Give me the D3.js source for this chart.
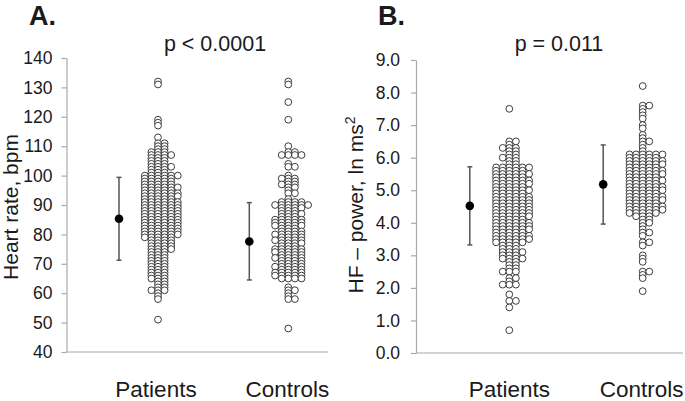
<!DOCTYPE html>
<html>
<head>
<meta charset="utf-8">
<script src="https://cdn.jsdelivr.net/npm/d3@7"></script>
<style>
  html, body { margin: 0; padding: 0; background: #fff; }
  svg { display: block; }
  text { font-family: "Liberation Sans", Arial, sans-serif; fill: #1a1a1a; }
</style>
</head>
<body>
<svg id="chart" width="685" height="401"></svg>
<script>
// ---------------- DATA ----------------
const groups = ["Patients", "Controls"];

// Panel A: heart rate, bpm
const hrPatients = [
  51,
  58, 59, 60,
  61, 61, 61, 62, 62, 63, 63, 64, 64,
  65, 65, 65, 66, 66, 66, 67, 67, 67, 68, 68, 68, 69, 69, 69,
  70, 70, 70, 71, 71, 71, 72, 72, 72, 73, 73, 73, 74, 74, 74,
  75, 75, 75, 75, 76, 76, 76, 76, 77, 77, 77, 77, 78, 78, 78, 78,
  79, 79, 79, 79, 79,
  80, 80, 80, 80, 80, 80, 81, 81, 81, 81, 81, 81, 82, 82, 82, 82, 82, 82,
  83, 83, 83, 83, 83, 83, 84, 84, 84, 84, 84, 84, 85, 85, 85, 85, 85, 85,
  86, 86, 86, 86, 86, 86, 87, 87, 87, 87, 87, 87, 88, 88, 88, 88, 88, 88,
  89, 89, 89, 89, 89, 89, 90, 90, 90, 90, 90, 90, 91, 91, 91, 91, 91, 91,
  92, 92, 92, 92, 92, 93, 93, 93, 93, 93, 93, 94, 94, 94, 94, 94, 94,
  95, 95, 95, 95, 95, 96, 96, 96, 96, 96, 96, 97, 97, 97, 97, 97,
  98, 98, 98, 98, 98, 99, 99, 99, 99, 99, 100, 100, 100, 100, 100, 100,
  101, 101, 101, 102, 102, 102, 103, 103, 103, 103, 104, 104, 104,
  105, 105, 105, 106, 106, 106, 107, 107, 107, 107, 108, 108, 108,
  109, 109, 110, 110, 111, 111, 113, 117, 118, 119, 131, 132
];
const hrControls = [
  48,
  58, 58, 59, 60, 61, 61, 62,
  65, 65, 65, 65, 66, 66, 66, 66, 66, 67, 67, 67, 67, 67, 68, 68, 68, 68,
  69, 69, 69, 69, 69, 70, 70, 70, 70, 71, 71, 71, 71, 72, 72, 72, 72, 72,
  73, 73, 73, 73, 74, 74, 74, 74, 74, 75, 75, 75, 75, 75, 76, 76, 76,
  77, 77, 77, 77, 78, 78, 78, 78, 78, 79, 79, 79, 79, 80, 80, 80, 80, 80,
  81, 81, 81, 81, 82, 82, 82, 83, 83, 83, 83, 83, 84, 84, 84, 84, 84,
  85, 85, 85, 85, 85, 86, 86, 86, 87, 87, 87, 87, 88, 88, 88, 89, 89, 89, 89,
  90, 90, 90, 90, 90, 90, 91, 91, 91, 91, 92,
  94, 94, 95, 96, 96, 97, 97, 97, 98, 98, 99, 99, 99, 100,
  103, 103, 104, 107, 107, 107, 107, 108, 108, 110, 119, 125, 131, 132
];
const hrMean = [85.3, 77.6];
const hrLow  = [71.2, 64.5];
const hrHigh = [99.4, 90.8];

// Panel B: HF power, ln ms^2
const hfPatients = [
  0.7, 1.4, 1.6, 1.6, 1.8, 2.1, 2.1, 2.1, 2.2, 2.3, 2.3,
  2.5, 2.5, 2.5, 2.6, 2.6, 2.7, 2.7, 2.8, 2.8, 2.9, 2.9, 2.9, 2.9,
  3.0, 3.0, 3.0, 3.1, 3.1, 3.1, 3.1, 3.2, 3.2, 3.2, 3.3, 3.3, 3.3,
  3.4, 3.4, 3.4, 3.4, 3.4, 3.5, 3.5, 3.5, 3.5, 3.5, 3.5,
  3.6, 3.6, 3.6, 3.6, 3.6, 3.6, 3.7, 3.7, 3.7, 3.7, 3.7,
  3.8, 3.8, 3.8, 3.8, 3.8, 3.8, 3.9, 3.9, 3.9, 3.9, 3.9, 3.9,
  4.0, 4.0, 4.0, 4.0, 4.0, 4.0, 4.1, 4.1, 4.1, 4.1, 4.1,
  4.2, 4.2, 4.2, 4.2, 4.2, 4.2, 4.3, 4.3, 4.3, 4.3, 4.3, 4.3,
  4.4, 4.4, 4.4, 4.4, 4.4, 4.4, 4.5, 4.5, 4.5, 4.5, 4.5, 4.5,
  4.6, 4.6, 4.6, 4.6, 4.6, 4.6, 4.7, 4.7, 4.7, 4.7, 4.7, 4.7,
  4.8, 4.8, 4.8, 4.8, 4.8, 4.8, 4.9, 4.9, 4.9, 4.9, 4.9,
  5.0, 5.0, 5.0, 5.0, 5.0, 5.0, 5.1, 5.1, 5.1, 5.1, 5.1,
  5.2, 5.2, 5.2, 5.2, 5.2, 5.2, 5.3, 5.3, 5.3, 5.3, 5.3, 5.3,
  5.4, 5.4, 5.4, 5.4, 5.4, 5.5, 5.5, 5.5, 5.5, 5.5, 5.5,
  5.6, 5.6, 5.6, 5.6, 5.6, 5.7, 5.7, 5.7, 5.7, 5.7, 5.7,
  5.8, 5.8, 5.9, 5.9, 6.0, 6.0, 6.0, 6.1, 6.1, 6.2, 6.2,
  6.3, 6.3, 6.3, 6.4, 6.5, 6.5, 7.5
];
const hfControls = [
  1.9, 2.3, 2.4, 2.5, 2.5, 2.8, 2.9, 3.0, 3.3, 3.4, 3.4, 3.6, 3.7, 3.7, 3.8, 3.9,
  4.0, 4.0, 4.1, 4.1, 4.2, 4.2, 4.2,
  4.3, 4.3, 4.3, 4.3, 4.3, 4.4, 4.4, 4.4, 4.4, 4.4, 4.4,
  4.5, 4.5, 4.5, 4.5, 4.5, 4.5, 4.6, 4.6, 4.6, 4.6, 4.6,
  4.7, 4.7, 4.7, 4.7, 4.7, 4.7, 4.8, 4.8, 4.8, 4.8, 4.8, 4.8,
  4.9, 4.9, 4.9, 4.9, 4.9, 5.0, 5.0, 5.0, 5.0, 5.0, 5.0,
  5.1, 5.1, 5.1, 5.1, 5.1, 5.1, 5.2, 5.2, 5.2, 5.2, 5.2,
  5.3, 5.3, 5.3, 5.3, 5.3, 5.3, 5.4, 5.4, 5.4, 5.4, 5.4,
  5.5, 5.5, 5.5, 5.5, 5.5, 5.5, 5.6, 5.6, 5.6, 5.6, 5.6, 5.6,
  5.7, 5.7, 5.7, 5.7, 5.7, 5.8, 5.8, 5.8, 5.8, 5.8, 5.8,
  5.9, 5.9, 5.9, 5.9, 5.9, 5.9, 6.0, 6.0, 6.0, 6.0, 6.0,
  6.1, 6.1, 6.1, 6.1, 6.1, 6.1,
  6.2, 6.3, 6.4, 6.5, 6.5, 6.6, 6.7, 6.9, 7.0, 7.2, 7.3, 7.4, 7.5, 7.6, 7.6, 8.2
];
const hfMean = [4.52, 5.18];
const hfLow  = [3.32, 3.96];
const hfHigh = [5.72, 6.39];

const hrTicks = [40, 50, 60, 70, 80, 90, 100, 110, 120, 130, 140];
const hfTicks = [0, 1, 2, 3, 4, 5, 6, 7, 8, 9];

// ---------------- DRAWING ----------------
const svg = d3.select("#chart");
const colOrder = [0, 1, -1, 2, -2, 3, -3, 4, -4];
const colStep = 6.6;

function layout(values, binSize) {
  const counts = new Map();
  return values.slice().sort((a, b) => b - a).map(v => {
    const key = Math.round(v / binSize);
    const n = counts.get(key) || 0;
    counts.set(key, n + 1);
    return { v, col: colOrder[n] };
  });
}

function panel(cfg) {
  const g = svg.append("g");
  const y = d3.scaleLinear().domain(cfg.domain).range(cfg.yRange);
  const x = d3.scalePoint().domain(groups).range(cfg.xRange);

  // y axis
  const ax = g.append("g")
    .attr("transform", `translate(${cfg.axisX},0)`)
    .call(d3.axisLeft(y).tickValues(cfg.ticks).tickFormat(cfg.fmt)
      .tickSize(5).tickSizeOuter(0).tickPadding(cfg.pad));
  ax.select(".domain").attr("stroke", "#a8a8a8").attr("stroke-width", 1.2);
  ax.selectAll(".tick line").attr("stroke", "#a8a8a8").attr("stroke-width", 1.2);
  ax.selectAll(".tick text")
    .attr("font-size", 17.5).attr("fill", "#1a1a1a")
    .style("font-family", "'Liberation Sans', Arial, sans-serif");

  // x axis line
  g.append("line")
    .attr("x1", cfg.axisX).attr("x2", cfg.axisEnd)
    .attr("y1", y(cfg.domain[0])).attr("y2", y(cfg.domain[0]))
    .attr("stroke", "#a8a8a8").attr("stroke-width", 1.2);

  // category labels
  g.selectAll(".cat").data(groups).enter().append("text")
    .attr("x", (d, i) => x(d) + cfg.labelShift[i])
    .attr("y", 397)
    .attr("text-anchor", "middle")
    .attr("font-size", 22.5)
    .text(d => d);

  // dots
  cfg.series.forEach((vals, i) => {
    const pts = layout(vals, cfg.bin);
    g.append("g").selectAll("circle").data(pts).enter().append("circle")
      .attr("cx", d => x(groups[i]) + d.col * colStep)
      .attr("cy", d => y(d.v))
      .attr("r", 3.4)
      .attr("fill", "#fff")
      .attr("stroke", "#333")
      .attr("stroke-width", 0.95);
  });

  // mean +/- SD
  groups.forEach((grp, i) => {
    const mx = x(grp) + cfg.meanShift;
    g.append("line").attr("x1", mx).attr("x2", mx)
      .attr("y1", y(cfg.low[i])).attr("y2", y(cfg.high[i]))
      .attr("stroke", "#555").attr("stroke-width", 1.5);
    [cfg.low[i], cfg.high[i]].forEach(v => {
      g.append("line").attr("x1", mx - 2.5).attr("x2", mx + 2.5)
        .attr("y1", y(v)).attr("y2", y(v))
        .attr("stroke", "#555").attr("stroke-width", 1.5);
    });
    g.append("circle").attr("cx", mx).attr("cy", y(cfg.mean[i]))
      .attr("r", 4.3).attr("fill", "#000");
  });

  // panel letter
  g.append("text").attr("x", cfg.letterX).attr("y", 25)
    .attr("font-size", 27).attr("font-weight", "bold").text(cfg.letter);

  // p-value
  g.append("text").attr("x", cfg.pX).attr("y", 51)
    .attr("text-anchor", "middle").attr("font-size", 21.5).text(cfg.pText);

  // y label
  const yl = g.append("text")
    .attr("transform", `translate(${cfg.yLabX},${cfg.yLabY}) rotate(-90)`)
    .attr("text-anchor", "middle").attr("font-size", 21);
  yl.append("tspan").text(cfg.yLabel);
  if (cfg.yLabelSup) {
    yl.append("tspan").attr("dy", -8).attr("font-size", 14).text(cfg.yLabelSup);
  }
}

panel({
  domain: [40, 140], yRange: [352, 58], xRange: [158, 288.3],
  axisX: 66.5, axisEnd: 328, ticks: hrTicks, fmt: d3.format("d"), pad: 9,
  series: [hrPatients, hrControls], bin: 1,
  mean: hrMean, low: hrLow, high: hrHigh, meanShift: -39,
  labelShift: [-2, -1],
  letter: "A.", letterX: 29, pText: "p < 0.0001", pX: 215,
  yLabel: "Heart rate, bpm", yLabX: 18, yLabY: 207
});

panel({
  domain: [0, 9], yRange: [353, 60], xRange: [509.3, 642.7],
  axisX: 416, axisEnd: 683, ticks: hfTicks, fmt: d3.format(".1f"), pad: 11,
  series: [hfPatients, hfControls], bin: 0.1,
  mean: hfMean, low: hfLow, high: hfHigh, meanShift: -39.5,
  labelShift: [0, -1],
  letter: "B.", letterX: 378, pText: "p = 0.011", pX: 559,
  yLabel: "HF \u2013 power, ln ms", yLabelSup: "2", yLabX: 363, yLabY: 205
});
</script>
</body>
</html>
